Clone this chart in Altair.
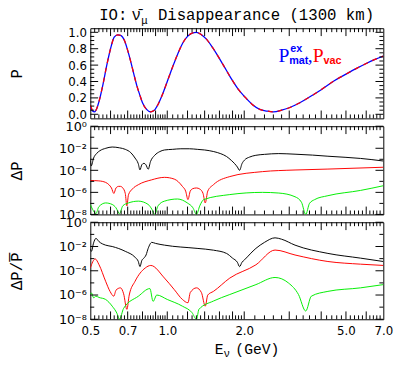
import altair as alt
import pandas as pd

# ---------------- data ----------------
# Top panel: survival probability P vs E (GeV)
E_P = [0.50, 0.51, 0.52, 0.53, 0.54, 0.56, 0.58, 0.60, 0.62, 0.64,
       0.66, 0.68, 0.70, 0.72, 0.74, 0.76, 0.78, 0.80, 0.83, 0.86,
       0.89, 0.92, 0.96, 1.00, 1.05, 1.10, 1.15, 1.20, 1.25, 1.30,
       1.36, 1.42, 1.50, 1.60, 1.70, 1.80, 1.90, 2.00, 2.15, 2.30,
       2.45, 2.60, 2.80, 3.00, 3.30, 3.60, 4.00, 4.50, 5.00, 5.50,
       6.00, 6.50, 7.00]
P_MAT = [0.09, 0.04, 0.03, 0.07, 0.15, 0.36, 0.60, 0.80, 0.94, 0.97,
         0.96, 0.90, 0.78, 0.64, 0.49, 0.35, 0.24, 0.14, 0.06, 0.03,
         0.05, 0.12, 0.25, 0.40, 0.58, 0.74, 0.87, 0.95, 0.99, 1.00,
         0.97, 0.92, 0.82, 0.68, 0.54, 0.41, 0.30, 0.22, 0.12, 0.06,
         0.04, 0.03, 0.05, 0.08, 0.14, 0.21, 0.30, 0.41, 0.49, 0.56,
         0.62, 0.67, 0.71]
P_VAC = [0.11, 0.05, 0.03, 0.07, 0.15, 0.36, 0.60, 0.80, 0.94, 0.97,
         0.96, 0.90, 0.78, 0.64, 0.49, 0.35, 0.24, 0.14, 0.06, 0.03,
         0.05, 0.12, 0.25, 0.40, 0.58, 0.74, 0.87, 0.95, 0.99, 1.00,
         0.97, 0.92, 0.82, 0.68, 0.54, 0.41, 0.30, 0.22, 0.12, 0.06,
         0.04, 0.03, 0.05, 0.08, 0.14, 0.21, 0.30, 0.41, 0.49, 0.56,
         0.62, 0.67, 0.71]

# Middle panel: Delta P
E_DP_BLACK = [0.500, 0.504, 0.515, 0.530, 0.545, 0.575, 0.609, 0.650, 0.685, 0.720,
              0.748, 0.770, 0.782, 0.795, 0.810, 0.825, 0.842, 0.860, 0.893, 0.935,
              0.975, 1.05, 1.13, 1.22, 1.31, 1.40, 1.52, 1.62, 1.705, 1.78,
              1.835, 1.88, 1.918, 1.96, 2.005, 2.10, 2.22, 2.40, 2.73, 3.16,
              3.70, 4.25, 5.00, 5.70, 7.00]
DP_BLACK = [8e-4, 2.5e-4, 1.3e-3, 3.5e-3, 6e-3, 1.0e-2, 1.3e-2, 1.1e-2, 8e-3, 4e-3,
            1.3e-3, 4e-4, 1.1e-4, 3.2e-4, 4.3e-4, 3.2e-4, 1.25e-4, 6.3e-4, 2.3e-3, 5e-3,
            7e-3, 8e-3, 9e-3, 9e-3, 8e-3, 7e-3, 5e-3, 3.2e-3, 1.8e-3, 8e-4,
            4e-4, 2e-4, 1.0e-4, 4e-4, 8.5e-4, 1.6e-3, 2.3e-3, 2.8e-3, 3.3e-3, 2.9e-3,
            2.4e-3, 1.9e-3, 1.5e-3, 1.2e-3, 7e-4]
E_DP_RED = [0.500, 0.540, 0.574, 0.591, 0.605, 0.618, 0.630, 0.645, 0.656, 0.670,
            0.685, 0.695, 0.705, 0.730, 0.771, 0.867, 0.975, 1.065, 1.146, 1.180,
            1.205, 1.230, 1.260, 1.301, 1.340, 1.380, 1.408, 1.440, 1.516, 1.756,
            2.357, 3.160, 4.250, 7.000]
DP_RED = [1.2e-5, 1.1e-5, 8e-6, 5e-6, 2.5e-6, 8e-7, 2.5e-6, 3.5e-6, 3.5e-6, 2.5e-6,
          8e-7, 6e-8, 6e-7, 2e-6, 5e-6, 1.35e-5, 2.3e-5, 1.6e-5, 3.5e-6, 1.3e-6,
          2.2e-7, 1.3e-6, 2.2e-6, 2.5e-6, 2e-6, 8e-7, 1.1e-7, 1.3e-6, 5e-6, 2.7e-5,
          7.6e-5, 1.07e-4, 1.3e-4, 1.9e-4]
E_DP_GREEN = [0.500, 0.510, 0.526, 0.540, 0.574, 0.609, 0.630, 0.650, 0.670, 0.705,
              0.771, 0.842, 0.870, 0.893, 0.920, 0.975, 1.097, 1.198, 1.260, 1.301,
              1.340, 1.388, 1.756, 2.357, 2.730, 3.160, 3.350, 3.480, 3.600, 3.770,
              4.250, 5.700, 7.000]
DP_GREEN = [8e-8, 3e-8, 1.2e-8, 5e-8, 1.1e-7, 8e-8, 4e-8, 1.15e-8, 6e-8, 1.1e-7,
            1.6e-7, 8e-8, 3e-8, 1e-8, 6e-8, 1.6e-7, 2.5e-7, 1.1e-7, 4e-8, 1e-8,
            6e-8, 2.2e-7, 6.3e-7, 1e-6, 8.7e-7, 4e-7, 1.26e-7, 1e-8, 1e-7, 2.2e-7,
            5e-7, 1.5e-6, 4e-6]

# Bottom panel: Delta P / P-bar
E_RP_BLACK = [0.500, 0.505, 0.515, 0.526, 0.541, 0.574, 0.609, 0.685, 0.748, 0.770,
              0.782, 0.795, 0.810, 0.826, 0.842, 0.870, 0.900, 0.975, 1.308, 1.516,
              1.705, 1.80, 1.88, 1.918, 1.96, 2.005, 2.222, 2.40, 2.64, 2.80,
              3.16, 4.25, 5.70, 7.00]
RP_BLACK = [6e-3, 4e-3, 2e-2, 4.7e-2, 2.5e-2, 1.3e-2, 1.0e-2, 4e-3, 1.3e-3, 6e-4,
            2.2e-4, 7e-4, 1.1e-3, 2e-3, 7e-3, 2.2e-2, 1.8e-2, 1.3e-2, 7e-3, 5e-3,
            2.7e-3, 1.1e-3, 5e-4, 2.2e-4, 5e-4, 8e-4, 7e-3, 2.2e-2, 5.2e-2, 4e-2,
            1.3e-2, 2.7e-3, 1.1e-3, 5.8e-4]
E_RP_RED = [0.500, 0.5225, 0.541, 0.574, 0.597, 0.618, 0.630, 0.656, 0.675, 0.695,
            0.710, 0.748, 0.820, 0.862, 0.975, 1.065, 1.146, 1.205, 1.230, 1.301,
            1.360, 1.408, 1.440, 1.516, 1.756, 2.222, 2.64, 3.16, 4.25, 5.70,
            7.00]
RP_RED = [1.7e-4, 9.5e-4, 3.1e-4, 1.35e-5, 2e-6, 8e-7, 2.5e-6, 3.9e-6, 1.26e-6, 6.6e-8,
          1e-6, 1.35e-5, 1.7e-4, 2.75e-4, 2.5e-5, 2.8e-6, 4.3e-7, 2.3e-7, 1.6e-6, 3.9e-6,
          1.6e-6, 1.2e-7, 1e-6, 2e-6, 2.5e-5, 3.1e-4, 5.1e-3, 2e-3, 5.8e-4, 3.5e-4,
          2.75e-4]
E_RP_GREEN = [0.500, 0.505, 0.515, 0.526, 0.541, 0.574, 0.609, 0.635, 0.650, 0.675,
              0.771, 0.855, 0.880, 0.910, 1.000, 1.146, 1.250, 1.301, 1.330, 1.516,
              1.756, 2.222, 2.64, 2.98, 3.26, 3.48, 3.66, 4.25, 5.70, 7.00]
RP_GREEN = [1.1e-6, 1.5e-6, 5.9e-7, 8e-7, 6.3e-7, 4.3e-7, 1.2e-7, 3.2e-8, 1e-8, 8e-8,
            8e-7, 3.4e-6, 3e-7, 1e-6, 4.3e-7, 1.2e-7, 3.5e-8, 1e-8, 6.6e-8, 3.2e-7,
            1.1e-6, 7.2e-6, 2.8e-5, 9.8e-6, 1.1e-6, 4.8e-8, 8e-7, 2e-6, 3.9e-6, 7.2e-6]

# Axis ticks and labels
X_LABELS = [0.5, 0.7, 1.0, 2.0, 5.0, 7.0]
X_MAJOR = [0.6, 0.7, 0.8, 0.9, 1.0, 1.2, 1.4, 1.6, 1.8, 2.0, 3.0, 4.0, 5.0, 6.0]
X_MINOR = [0.52, 0.54, 0.56, 0.58, 0.62, 0.64, 0.66, 0.68, 0.72, 0.74, 0.76, 0.78,
           0.82, 0.84, 0.86, 0.88, 0.92, 0.94, 0.96, 0.98,
           1.05, 1.1, 1.15, 1.25, 1.3, 1.35, 1.45, 1.5, 1.55, 1.65, 1.7, 1.75,
           1.85, 1.9, 1.95, 2.2, 2.4, 2.6, 2.8, 3.2, 3.4, 3.6, 3.8, 4.2, 4.4,
           4.6, 4.8, 5.2, 5.4, 5.6, 5.8, 6.2, 6.4, 6.6, 6.8]
P_LABELS = [0.0, 0.2, 0.4, 0.6, 0.8, 1.0]
P_MINOR = [0.05, 0.1, 0.15, 0.25, 0.3, 0.35, 0.45, 0.5, 0.55, 0.65, 0.7, 0.75,
           0.85, 0.9, 0.95]
LOG_LABELS = [1.0, 1e-2, 1e-4, 1e-6, 1e-8]
LOG_MINOR = [1e-1, 1e-3, 1e-5, 1e-7]

# ---------------- chart ----------------
W = 299
H1, H2, H3 = 92, 90, 99
LABEL_FONT = "DejaVu Sans"
MONO = "Liberation Mono"
ONE = pd.DataFrame({"k": [0]})

XS = alt.Scale(type="log", domain=[0.5, 7.0], nice=False)
YS_P = alt.Scale(domain=[-0.05, 1.05], nice=False, zero=False)
YS_LOG1 = alt.Scale(type="log", domain=[1e-8, 1.0], nice=False)
YS_LOG2 = alt.Scale(type="log", domain=[1e-8, 1.0], nice=False)

LOG_EXPR = ("datum.value >= 0.5 ? '10⁰' : datum.value >= 5e-3 ? '10⁻²' : "
            "datum.value >= 5e-5 ? '10⁻⁴' : datum.value >= 5e-7 ? '10⁻⁶' : '10⁻⁸'")

TX = -75

YAXIS_P = alt.Axis(values=P_LABELS, format=".1f", title="P", titleX=TX, titleY=H1 / 2,
                   titleAngle=270, titleAlign="center", titleBaseline="middle",
                   labelPadding=4, labelFlush=False, labelOverlap=False)


def yaxis_log(title, h):
    return alt.Axis(values=LOG_LABELS, labelExpr=LOG_EXPR, title=title, titleX=TX,
                    titleY=h / 2, titleAngle=270, titleAlign="center",
                    titleBaseline="middle", labelPadding=4, labelFlush=False,
                    labelOverlap=False, labelFontSize=13)


YAXIS_MID = yaxis_log("ΔP", H2)
YAXIS_BOT = yaxis_log("ΔP/P\u0305", H3)
XAXIS_BOTTOM = alt.Axis(values=X_LABELS, format=".1f", title=None, labelPadding=7,
                        labelFlush=False, labelOverlap=False)


def line(E, V, color, yscale, yaxis, xaxis=None, width=1.0, dash=None):
    df = pd.DataFrame({"E": E, "v": V})
    kw = dict(color=color, strokeWidth=width, clip=True, interpolate="monotone")
    if dash is not None:
        kw["strokeDash"] = dash
    return alt.Chart(df).mark_line(**kw).encode(
        x=alt.X("E:Q", scale=XS, axis=xaxis),
        y=alt.Y("v:Q", scale=yscale, axis=yaxis),
        order="E:Q",
    )


def ticks(H, yscale, ymajor, yminor, yaxis, xaxis=None):
    out = []
    for vals, L in ((X_MAJOR, 8), (X_MINOR, 4)):
        base = alt.Chart(pd.DataFrame({"E": vals})).mark_rule(color="black", strokeWidth=1)
        xe = alt.X("E:Q", scale=XS, axis=xaxis)
        out.append(base.encode(x=xe, y=alt.value(0), y2=alt.value(L)))
        out.append(base.encode(x=xe, y=alt.value(H), y2=alt.value(H - L)))
    for vals, L in ((ymajor, 8), (yminor, 4)):
        base = alt.Chart(pd.DataFrame({"v": vals})).mark_rule(color="black", strokeWidth=1)
        ye = alt.Y("v:Q", scale=yscale, axis=yaxis)
        out.append(base.encode(y=ye, x=alt.value(0), x2=alt.value(L)))
        out.append(base.encode(y=ye, x=alt.value(W), x2=alt.value(W - L)))
    return out


def txt(s, x, y, size, color="black", font=MONO, weight="normal"):
    return alt.Chart(ONE).mark_text(text=s, align="left", baseline="alphabetic", font=font,
                                    fontSize=size, fontWeight=weight, color=color).encode(
        x=alt.value(x), y=alt.value(y))


# Top panel
top = alt.layer(
    line(E_P, P_MAT, "#0000ff", YS_P, YAXIS_P, width=1.3),
    line(E_P, P_VAC, "#ff0000", YS_P, YAXIS_P, width=1.3, dash=[5, 5]),
    *ticks(H1, YS_P, P_LABELS, P_MINOR, YAXIS_P),
    txt("IO:", 9, -8, 16),
    txt("ν\u0304", 42, -8, 16),
    txt("μ", 52, -4, 11),
    txt("Disappearance (1300 km)", 69, -8, 16),
    txt("P", 192, 34, 20, "#0000ff", "Liberation Serif"),
    txt("ex", 204, 24, 11, "#0000ff", "Liberation Sans", "bold"),
    txt("mat", 203, 37, 11, "#0000ff", "Liberation Sans", "bold"),
    txt(",", 222, 34, 20, "#0000ff", "Liberation Serif"),
    txt("P", 227, 34, 20, "#ff0000", "Liberation Serif"),
    txt("vac", 238, 37, 11, "#ff0000", "Liberation Sans", "bold"),
).properties(width=W, height=H1)

mid = alt.layer(
    line(E_DP_BLACK, DP_BLACK, "black", YS_LOG1, YAXIS_MID),
    line(E_DP_RED, DP_RED, "#ff0000", YS_LOG1, YAXIS_MID),
    line(E_DP_GREEN, DP_GREEN, "#00ee00", YS_LOG1, YAXIS_MID),
    *ticks(H2, YS_LOG1, LOG_LABELS, LOG_MINOR, YAXIS_MID),
).properties(width=W, height=H2)

bot = alt.layer(
    line(E_RP_BLACK, RP_BLACK, "black", YS_LOG2, YAXIS_BOT, XAXIS_BOTTOM),
    line(E_RP_RED, RP_RED, "#ff0000", YS_LOG2, YAXIS_BOT, XAXIS_BOTTOM),
    line(E_RP_GREEN, RP_GREEN, "#00ee00", YS_LOG2, YAXIS_BOT, XAXIS_BOTTOM),
    *ticks(H3, YS_LOG2, LOG_LABELS, LOG_MINOR, YAXIS_BOT, XAXIS_BOTTOM),
    txt("E", 127, 134, 15),
    txt("ν", 136, 138, 11),
    txt("(GeV)", 148, 134, 15),
).properties(width=W, height=H3)

chart = alt.vconcat(top, mid, bot, spacing=8, bounds="flush").properties(
    padding={"left": 0, "top": -5, "right": 5, "bottom": 0}
).configure_view(stroke="black", strokeWidth=1).configure_axis(
    grid=False, ticks=False, domain=False,
    labelFont=LABEL_FONT, labelFontSize=12, labelColor="black",
    titleFont=MONO, titleFontSize=16, titleFontWeight="normal", titleColor="black",
)

chart.save("out.html", embed_options={"renderer": "svg", "actions": False})
